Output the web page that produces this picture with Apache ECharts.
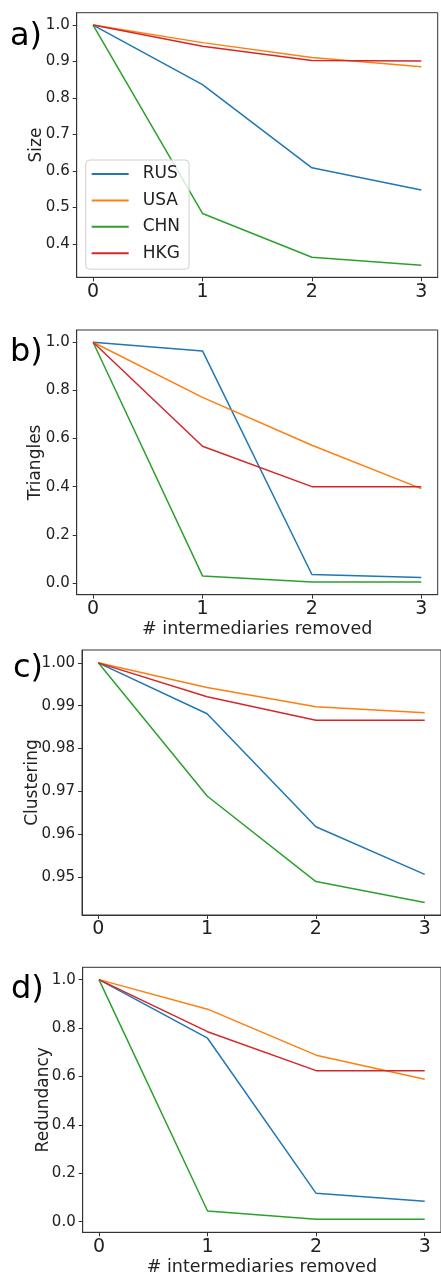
<!DOCTYPE html>
<html><head><meta charset="utf-8">
<script src="https://cdn.jsdelivr.net/npm/echarts@6/dist/echarts.min.js"></script>
<style>html,body{margin:0;padding:0;background:#fff}#c{width:441px;height:1279px}</style>
</head><body><div id="c"></div>
<script>
// ---- data ----
const steps = [0, 1, 2, 3];
const countries = ['RUS', 'USA', 'CHN', 'HKG'];
const sizeRUS = [1.0, 0.837, 0.609, 0.548];
const sizeUSA = [1.0, 0.952, 0.911, 0.886];
const sizeCHN = [1.0, 0.484, 0.364, 0.342];
const sizeHKG = [1.0, 0.942, 0.903, 0.902];
const triRUS = [1.0, 0.964, 0.035, 0.022];
const triUSA = [1.0, 0.771, 0.572, 0.392];
const triCHN = [1.0, 0.029, 0.004, 0.004];
const triHKG = [1.0, 0.568, 0.400, 0.400];
const cluRUS = [1.0, 0.9881, 0.9617, 0.9506];
const cluUSA = [1.0, 0.99425, 0.98972, 0.98832];
const cluCHN = [1.0, 0.9689, 0.9489, 0.9440];
const cluHKG = [1.0, 0.99206, 0.98661, 0.98661];
const redRUS = [1.0, 0.758, 0.117, 0.084];
const redUSA = [1.0, 0.878, 0.688, 0.588];
const redCHN = [1.0, 0.044, 0.010, 0.010];
const redHKG = [1.0, 0.785, 0.624, 0.624];
const sizeTicks = [0.4, 0.5, 0.6, 0.7, 0.8, 0.9, 1.0];
const triTicks = [0.0, 0.2, 0.4, 0.6, 0.8, 1.0];
const cluTicks = [0.95, 0.96, 0.97, 0.98, 0.99, 1.00];
const redTicks = [0.0, 0.2, 0.4, 0.6, 0.8, 1.0];
const panelLetters = ['a)', 'b)', 'c)', 'd)'];
const yNames = ['Size', 'Triangles', 'Clustering', 'Redundancy'];
const xName = '# intermediaries removed';

// ---- layout / style ----
const FONT = 'DejaVu Sans';
const colors = ['#1f77b4', '#ff7f0e', '#2ca02c', '#d62728'];
const panels = [
  {data: [sizeRUS, sizeUSA, sizeCHN, sizeHKG], ticks: sizeTicks, dec: 1, min: 0.309, max: 1.034,
   grid: {left: 76.7, top: 12.7, width: 361, height: 264.6}, nameGap: 32, xlabel: false,
   letter: {x: 10, y: 41}},
  {data: [triRUS, triUSA, triCHN, triHKG], ticks: triTicks, dec: 1, min: -0.049, max: 1.051,
   grid: {left: 76.7, top: 330, width: 361, height: 264.7}, nameGap: 33, xlabel: true,
   letter: {x: 10, y: 357}},
  {data: [cluRUS, cluUSA, cluCHN, cluHKG], ticks: cluTicks, dec: 2, min: 0.9411, max: 1.0030,
   grid: {left: 82, top: 650, width: 362, height: 265}, nameGap: 41, xlabel: false,
   letter: {x: 13, y: 673}},
  {data: [redRUS, redUSA, redCHN, redHKG], ticks: redTicks, dec: 1, min: -0.044, max: 1.051,
   grid: {left: 82.7, top: 967.3, width: 362, height: 265}, nameGap: 31, xlabel: true,
   letter: {x: 11, y: 994}}
];

const grids = [], xAxes = [], yAxes = [], series = [], graphics = [];
panels.forEach((p, i) => {
  grids.push(Object.assign({show: true, borderColor: '#333', borderWidth: 1, backgroundColor: 'transparent'}, p.grid));
  xAxes.push({
    type: 'value', gridIndex: i, min: -0.15, max: 3.15,
    splitLine: {show: false},
    axisLine: {show: true, onZero: false, lineStyle: {color: '#333', width: 1}},
    axisTick: {show: true, length: 4, customValues: steps, lineStyle: {color: '#333'}},
    axisLabel: {customValues: steps, fontFamily: FONT, fontSize: 19, color: '#222', margin: 5,
      formatter: v => String(Math.round(v))},
    name: p.xlabel ? xName : '', nameLocation: 'middle', nameGap: 26, nameMoveOverlap: false,
    nameTextStyle: {fontFamily: FONT, fontSize: 17.5, color: '#222'}
  });
  yAxes.push({
    type: 'value', gridIndex: i, min: p.min, max: p.max,
    splitLine: {show: false},
    axisLine: {show: true, onZero: false, lineStyle: {color: '#333', width: 1}},
    axisTick: {show: true, length: 4, customValues: p.ticks, lineStyle: {color: '#333'}},
    axisLabel: {customValues: p.ticks, fontFamily: FONT, fontSize: 15, color: '#222', margin: 7,
      formatter: v => v.toFixed(p.dec)},
    name: yNames[i], nameLocation: 'middle', nameRotate: 90, nameGap: p.nameGap, nameMoveOverlap: false,
    nameTextStyle: {fontFamily: FONT, fontSize: 17, color: '#222'}
  });
  p.data.forEach((vals, k) => {
    series.push({
      type: 'line', name: countries[k], xAxisIndex: i, yAxisIndex: i,
      data: steps.map((s, j) => [s, vals[j]]),
      symbol: 'none', silent: true, animation: false,
      lineStyle: {color: colors[k], width: 1.5}, itemStyle: {color: colors[k]}
    });
  });
  graphics.push({
    type: 'text', left: p.letter.x, top: p.letter.y - 20,
    style: {text: panelLetters[i], fontFamily: FONT, fontSize: 32, fill: '#000'}
  });
});

const chart = echarts.init(document.getElementById('c'), null, {renderer: 'canvas'});
chart.setOption({
  animation: false,
  backgroundColor: '#fff',
  color: colors,
  grid: grids, xAxis: xAxes, yAxis: yAxes, series: series,
  graphic: graphics,
  legend: {
    data: countries, orient: 'vertical', left: 85.7, top: 160,
    icon: 'rect', itemWidth: 37, itemHeight: 2, itemGap: 8.4,
    padding: [5, 9, 7, 6],
    backgroundColor: 'rgba(255,255,255,0.8)', borderColor: '#d0d0d0', borderWidth: 1, borderRadius: 4,
    textStyle: {fontFamily: FONT, fontSize: 17, color: '#222', lineHeight: 18, padding: [0, 0, 0, 9]},
    selectedMode: false
  }
});
</script></body></html>
